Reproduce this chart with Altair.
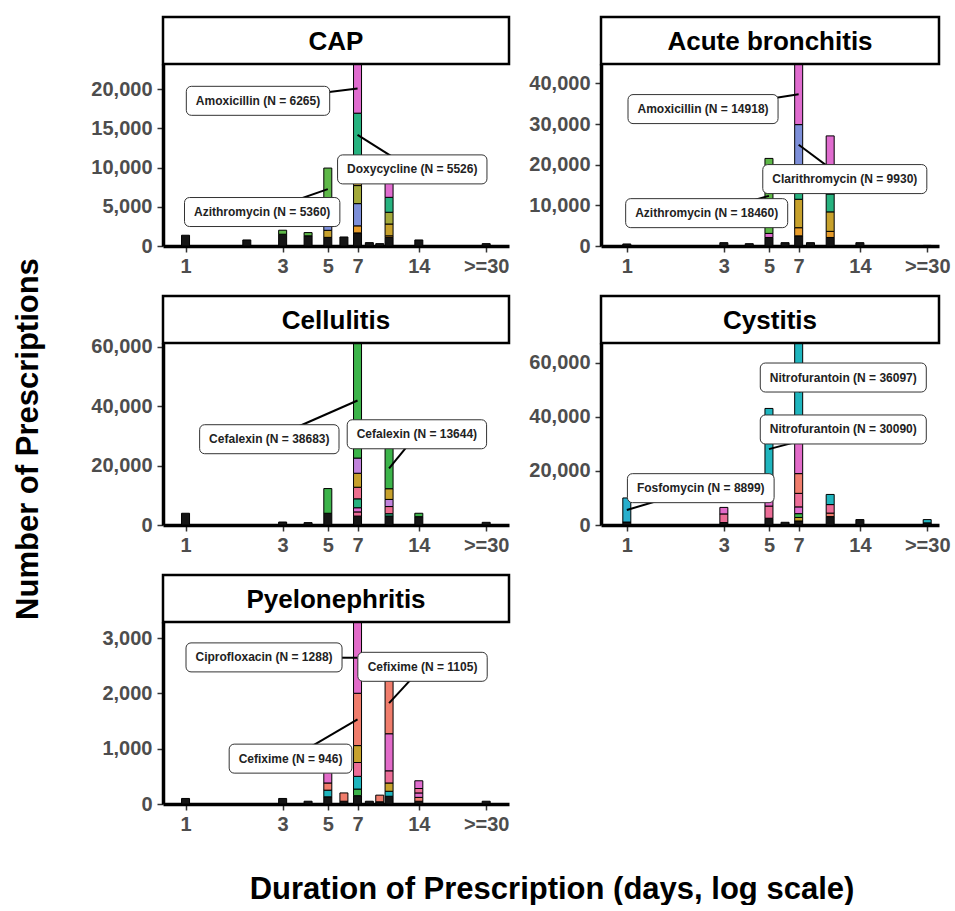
import altair as alt
import pandas as pd

# ---------------- data (stacks listed bottom -> top) ----------------
CAP_BARS = {
    1: [("Other", 1370)],
    2: [("Other", 770)],
    3: [("Other", 1500), ("Azithromycin", 510)],
    4: [("Other", 1300), ("Azithromycin", 410)],
    5: [("Other", 1100), ("Amoxicillin-clavulanate", 900), ("Clarithromycin", 800),
        ("Doxycycline", 1770), ("Azithromycin", 5360)],
    6: [("Other", 1150)],
    7: [("Other", 1670), ("Cefuroxime", 900), ("Clarithromycin", 2830), ("Levofloxacin", 2300),
        ("Amoxicillin-clavulanate", 3700), ("Doxycycline", 5526), ("Amoxicillin", 6265)],
    8: [("Other", 430)],
    9: [("Other", 300)],
    10: [("Other", 1100), ("Cefuroxime", 200), ("Amoxicillin-clavulanate", 1500),
         ("Levofloxacin", 1500), ("Doxycycline", 1900), ("Amoxicillin", 3600)],
    14: [("Other", 770)],
    30: [("Other", 300)],
}
AB_BARS = {
    1: [("Other", 500)],
    3: [("Other", 820)],
    4: [("Other", 570)],
    5: [("Other", 2100), ("Amoxicillin", 1000), ("Azithromycin", 18460)],
    6: [("Other", 820)],
    7: [("Other", 2500), ("Cefuroxime", 2000), ("Amoxicillin-clavulanate", 7000),
        ("Doxycycline", 8450), ("Clarithromycin", 9930), ("Amoxicillin", 14918)],
    8: [("Other", 820)],
    10: [("Other", 2100), ("Cefuroxime", 1500), ("Amoxicillin-clavulanate", 4800),
         ("Doxycycline", 4400), ("Clarithromycin", 3000), ("Amoxicillin", 11300)],
    14: [("Other", 820)],
    30: [("Other", 150)],
}
CELL_BARS = {
    1: [("Other", 3950)],
    3: [("Other", 1000)],
    4: [("Other", 800)],
    5: [("Other", 3950), ("Cefalexin", 8300)],
    7: [("Other", 3000), ("Sulfamethoxazole-trimethoprim", 1400), ("Amoxicillin", 1400),
        ("Doxycycline", 3000), ("Cloxacillin", 3900), ("Amoxicillin-clavulanate", 4700),
        ("Clindamycin", 5100), ("Cefalexin", 38683)],
    10: [("Other", 3000), ("Doxycycline", 800), ("Cloxacillin", 2400), ("Clindamycin", 2400),
         ("Amoxicillin-clavulanate", 3600), ("Cefalexin", 13644)],
    14: [("Other", 2800), ("Cefalexin", 1150)],
    30: [("Other", 900)],
}
CYST_BARS = {
    1: [("Other", 1100), ("Fosfomycin", 8899)],
    3: [("Other", 900), ("Sulfamethoxazole-trimethoprim", 3200), ("Ciprofloxacin", 2400)],
    5: [("Other", 2500), ("Sulfamethoxazole-trimethoprim", 4500), ("Ciprofloxacin", 3000),
        ("Cefixime", 3010), ("Nitrofurantoin", 30090)],
    6: [("Other", 1000)],
    7: [("Other", 1500), ("Amoxicillin-clavulanate", 1300), ("Cefalexin", 1400),
        ("Amoxicillin", 2500), ("Sulfamethoxazole-trimethoprim", 5000), ("Cefixime", 7300),
        ("Ciprofloxacin", 12200), ("Nitrofurantoin", 36097)],
    10: [("Other", 3100), ("Cefixime", 1300), ("Sulfamethoxazole-trimethoprim", 3150),
         ("Nitrofurantoin", 3750)],
    14: [("Other", 2000)],
    30: [("Other", 800), ("Nitrofurantoin", 1200)],
}
PYELO_BARS = {
    1: [("Other", 100)],
    3: [("Other", 100)],
    4: [("Other", 50)],
    5: [("Other", 130), ("Nitrofurantoin", 120), ("Cefixime", 130), ("Ciprofloxacin", 250)],
    6: [("Other", 50), ("Cefixime", 150)],
    7: [("Other", 150), ("Cefalexin", 120), ("Nitrofurantoin", 230),
        ("Sulfamethoxazole-trimethoprim", 250), ("Amoxicillin-clavulanate", 306),
        ("Cefixime", 946), ("Ciprofloxacin", 1288)],
    8: [("Other", 50)],
    9: [("Other", 40), ("Cefixime", 120)],
    10: [("Other", 140), ("Nitrofurantoin", 90), ("Amoxicillin-clavulanate", 150),
         ("Sulfamethoxazole-trimethoprim", 220), ("Ciprofloxacin", 670), ("Cefixime", 1105)],
    14: [("Other", 50), ("Cefixime", 70), ("Ciprofloxacin", 80),
         ("Sulfamethoxazole-trimethoprim", 80), ("Amoxicillin", 140)],
    30: [("Other", 50)],
}

# labelled segments: (drug, duration, label centre in days, label centre in prescriptions)
CAP_LABELS = [("Amoxicillin", 7, 2.27, 18500), ("Doxycycline", 7, 13.0, 9760),
              ("Azithromycin", 5, 2.38, 4330)]
AB_LABELS = [("Amoxicillin", 7, 2.37, 33700), ("Clarithromycin", 7, 11.8, 16470),
             ("Azithromycin", 5, 2.47, 8085)]
CELL_LABELS = [("Cefalexin", 7, 2.58, 28840), ("Cefalexin", 10, 13.7, 30500)]
CYST_LABELS = [("Nitrofurantoin", 7, 11.6, 54530), ("Nitrofurantoin", 5, 11.6, 35320),
               ("Fosfomycin", 1, 2.31, 13620)]
PYELO_LABELS = [("Ciprofloxacin", 7, 2.43, 2650), ("Cefixime", 10, 14.6, 2480),
                ("Cefixime", 7, 3.28, 820)]

CAP_TICKS = [0, 5000, 10000, 15000, 20000]
AB_TICKS = [0, 10000, 20000, 30000, 40000]
CELL_TICKS = [0, 20000, 40000, 60000]
CYST_TICKS = [0, 20000, 40000, 60000]
PYELO_TICKS = [0, 1000, 2000, 3000]

X_TICKS = [1, 3, 5, 7, 14, 30]

# ---------------- styles ----------------
DRUG_COLORS = {
    "Other": "#151515",
    "Amoxicillin": "#E06CCF",
    "Ciprofloxacin": "#E26BC9",
    "Doxycycline": "#27B27F",
    "Azithromycin": "#5EB848",
    "Clarithromycin": "#7D8FD9",
    "Amoxicillin-clavulanate": "#C7A12C",
    "Levofloxacin": "#A3A93A",
    "Cefuroxime": "#E79C2A",
    "Cefalexin": "#3CB44A",
    "Clindamycin": "#C183DC",
    "Cloxacillin": "#EE6E8F",
    "Sulfamethoxazole-trimethoprim": "#EC6D97",
    "Nitrofurantoin": "#1FB5BE",
    "Fosfomycin": "#28AFCD",
    "Cefixime": "#F07D6C",
}
FONT = "Liberation Sans"
LABEL_SIZE = 12
EM = {"A": .722, "C": .722, "D": .722, "N": .722, "F": .611, "P": .667,
      "a": .556, "b": .611, "c": .556, "d": .611, "e": .556, "f": .333, "g": .611,
      "h": .611, "i": .278, "l": .278, "m": .889, "n": .611, "o": .611, "p": .611,
      "r": .389, "s": .556, "t": .333, "u": .611, "x": .556, "y": .556, "z": .5,
      " ": .278, "(": .333, ")": .333, "=": .584}


def text_px(s, size):
    return size * sum(EM.get(ch, 0.556) for ch in s)


LEFT_DOMAIN = [0.82, 36.7]
RIGHT_DOMAIN = [0.79, 32.4]
HEADER_H = 47
PLOT_H = 182


def axis_style(**kw):
    return alt.Axis(title=None, grid=False, domainColor="black", domainWidth=3.5,
                    tickColor="#333333", tickWidth=1.5, tickSize=6,
                    labelFont=FONT, labelFontWeight="bold", labelFontSize=20,
                    labelColor="#4d4d4d", labelOverlap=False, labelFlush=False, **kw)


def build_panel(title, bars, labels, yticks, xdomain, width, extra=None):
    rows = []
    for dur, segs in bars.items():
        base = 0
        for drug, n in segs:
            rows.append({"x": dur, "y0": base, "y1": base + n, "drug": drug, "n": n})
            base += n
    df = pd.DataFrame(rows)
    ymax = float(df["y1"].max())

    lab_rows = []
    for drug, dur, cx, cy in labels:
        seg = df[(df["x"] == dur) & (df["drug"] == drug)].iloc[-1]
        txt = f"{drug} (N = {int(seg['n'])})"
        lab_rows.append({"x": cx, "y0": cy, "y1": cy, "x2": dur,
                         "ty": (seg["y0"] + seg["y1"]) / 2, "text": txt,
                         "w": text_px(txt, LABEL_SIZE) + 19})
    ldf = pd.DataFrame(lab_rows)

    xs = alt.Scale(type="log", domain=xdomain, nice=False)
    ys = alt.Scale(domain=[0, ymax], nice=False, zero=True)
    X = alt.X("x:Q", scale=xs,
              axis=axis_style(values=X_TICKS, labelPadding=4,
                              labelExpr="datum.value >= 30 ? '>=30' : format(datum.value, 'd')"))
    Y = alt.Y("y0:Q", scale=ys, axis=axis_style(values=yticks, format=",.0f", labelPadding=5))

    bar_layer = alt.Chart(df).mark_bar(size=8, stroke="black", strokeWidth=1, clip=True).encode(
        x=X, y=Y, y2=alt.Y2("y1:Q"),
        color=alt.Color("drug:N", legend=None,
                        scale=alt.Scale(domain=list(DRUG_COLORS.keys()),
                                        range=list(DRUG_COLORS.values()))),
    )
    rule_layer = alt.Chart(ldf).mark_rule(color="black", strokeWidth=2).encode(
        x=X, y=Y, x2=alt.X2("x2:Q"), y2=alt.Y2("ty:Q"))
    box_layer = alt.Chart(ldf).mark_bar(fill="white", stroke="#333333", strokeWidth=1,
                                        cornerRadius=5, yOffset=-14.5, y2Offset=14.5).encode(
        x=X, y=Y, y2=alt.Y2("y1:Q"), size=alt.Size("w:Q", scale=None, legend=None))
    text_layer = alt.Chart(ldf).mark_text(font=FONT, fontWeight="bold", fontSize=LABEL_SIZE,
                                          color="#222222", align="center",
                                          baseline="middle").encode(
        x=X, y=Y, text="text:N")

    hdf = pd.DataFrame({"t": [title]})
    head_box = alt.Chart(hdf).mark_rect(fill="white", stroke="black", strokeWidth=2.5).encode(
        x=alt.value(0), x2=alt.value(width), y=alt.value(-HEADER_H), y2=alt.value(0))
    head_txt = alt.Chart(hdf).mark_text(font=FONT, fontWeight="bold", fontSize=26,
                                        color="black", baseline="middle").encode(
        x=alt.value(width / 2), y=alt.value(-HEADER_H / 2 + 1), text="t:N")

    layers = [bar_layer, rule_layer, box_layer, text_layer, head_box, head_txt]
    if extra is not None:
        layers.append(extra)
    return alt.layer(*layers).properties(width=width, height=PLOT_H)


ytitle = alt.Chart(pd.DataFrame({"t": ["Number of Prescriptions"]})).mark_text(
    font=FONT, fontWeight="bold", fontSize=31, color="black", angle=270,
    align="center", baseline="middle").encode(
    x=alt.value(-134), y=alt.value(96), text="t:N")
xtitle = alt.Chart(pd.DataFrame({"t": ["Duration of Prescription (days, log scale)"]})).mark_text(
    font=FONT, fontWeight="bold", fontSize=31, color="black",
    align="center", baseline="middle").encode(
    x=alt.value(389), y=alt.value(268), text="t:N")

panels = [
    build_panel("CAP", CAP_BARS, CAP_LABELS, CAP_TICKS, LEFT_DOMAIN, 346),
    build_panel("Acute bronchitis", AB_BARS, AB_LABELS, AB_TICKS, RIGHT_DOMAIN, 338),
    build_panel("Cellulitis", CELL_BARS, CELL_LABELS, CELL_TICKS, LEFT_DOMAIN, 346, ytitle),
    build_panel("Cystitis", CYST_BARS, CYST_LABELS, CYST_TICKS, RIGHT_DOMAIN, 338),
    build_panel("Pyelonephritis", PYELO_BARS, PYELO_LABELS, PYELO_TICKS, LEFT_DOMAIN, 346, xtitle),
]

chart = alt.concat(*panels, columns=2, spacing={"row": 97, "column": 92}, bounds="flush").properties(
    padding={"left": 12, "top": 15, "right": 0, "bottom": 0}
).configure_view(stroke=None)

chart.save("out.html", embed_options={"renderer": "svg", "actions": False})
